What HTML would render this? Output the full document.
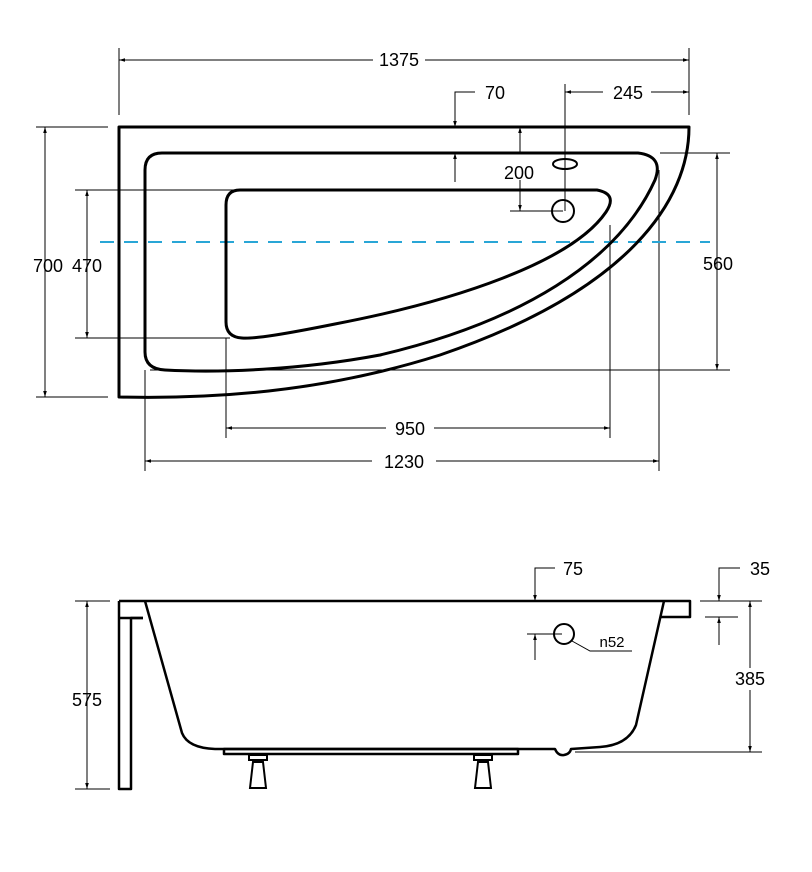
<!DOCTYPE html>
<html><head><style>html,body{margin:0;padding:0;background:#fff}svg{display:block}</style></head>
<body>
<svg width="812" height="872" viewBox="0 0 812 872" xmlns="http://www.w3.org/2000/svg" font-family="Liberation Sans, Arial, sans-serif">
<defs>
<marker id="a" viewBox="0 0 10 10" refX="10" refY="5" markerWidth="6" markerHeight="6" orient="auto-start-reverse"><path d="M0,2 L10,5 L0,8 Z" fill="#000"/></marker>
</defs>
<g stroke="#000" stroke-width="1" fill="none">
<line x1="119" y1="48" x2="119" y2="115"/><line x1="689" y1="48" x2="689" y2="115"/>
<line x1="119" y1="60" x2="689" y2="60" marker-start="url(#a)" marker-end="url(#a)"/>
<line x1="565" y1="84" x2="565" y2="211"/>
<line x1="565" y1="92" x2="689" y2="92" marker-start="url(#a)" marker-end="url(#a)"/>
<polyline points="475,92 455,92 455,127" marker-end="url(#a)"/>
<line x1="455" y1="182" x2="455" y2="153" marker-end="url(#a)"/>
<line x1="520" y1="153" x2="520" y2="127" marker-end="url(#a)"/>
<line x1="520" y1="180" x2="520" y2="211" marker-end="url(#a)"/>
<line x1="510" y1="211" x2="563" y2="211"/>
<line x1="660" y1="153" x2="730" y2="153"/><line x1="150" y1="370" x2="730" y2="370"/>
<line x1="717" y1="153" x2="717" y2="370" marker-start="url(#a)" marker-end="url(#a)"/>
<line x1="36" y1="127" x2="108" y2="127"/><line x1="36" y1="397" x2="108" y2="397"/>
<line x1="45" y1="127" x2="45" y2="397" marker-start="url(#a)" marker-end="url(#a)"/>
<line x1="75" y1="190" x2="235" y2="190"/><line x1="75" y1="338" x2="230" y2="338"/>
<line x1="87" y1="190" x2="87" y2="338" marker-start="url(#a)" marker-end="url(#a)"/>
<line x1="226" y1="338" x2="226" y2="438"/><line x1="610" y1="225" x2="610" y2="438"/>
<line x1="226" y1="428" x2="610" y2="428" marker-start="url(#a)" marker-end="url(#a)"/>
<line x1="145" y1="370" x2="145" y2="471"/><line x1="659" y1="170" x2="659" y2="471"/>
<line x1="145" y1="461" x2="659" y2="461" marker-start="url(#a)" marker-end="url(#a)"/>
</g>
<line x1="100" y1="242" x2="710" y2="242" stroke="#29a6d6" stroke-width="2" stroke-dasharray="14,10"/>
<g stroke="#000" stroke-width="3" fill="none" stroke-linejoin="round">
<path d="M119,127 L689,127 C689,200 630,290 440,355 C320,393 210,399 119,397 Z"/>
<path d="M162,153 L638,153 Q664,156 655,180 C618,262 520,322 380,355 C300,370 220,373 165,370 Q145,369 145,352 L145,170 Q145,153 162,153 Z"/>
<path d="M240,190 L597,190 Q618,194 606,212 C572,262 455,301 335,324 C285,334 255,339 242,338 Q226,337 226,322 L226,205 Q226,190 240,190 Z"/>
</g>
<g stroke="#000" stroke-width="2" fill="none">
<ellipse cx="565" cy="164" rx="12" ry="5"/>
<circle cx="563" cy="211" r="11"/>
</g>
<g stroke="#000" stroke-width="1" fill="none">
<polyline points="555,568 535,568 535,601" marker-end="url(#a)"/>
<line x1="535" y1="660" x2="535" y2="634" marker-end="url(#a)"/>
<line x1="527" y1="634" x2="562" y2="634"/>
<polyline points="740,568 719,568 719,601" marker-end="url(#a)"/>
<line x1="719" y1="645" x2="719" y2="617" marker-end="url(#a)"/>
<line x1="700" y1="601" x2="762" y2="601"/><line x1="705" y1="617" x2="738" y2="617"/>
<line x1="575" y1="752" x2="762" y2="752"/>
<line x1="750" y1="601" x2="750" y2="752" marker-start="url(#a)" marker-end="url(#a)"/>
<line x1="75" y1="601" x2="110" y2="601"/><line x1="75" y1="789" x2="110" y2="789"/>
<line x1="87" y1="601" x2="87" y2="789" marker-start="url(#a)" marker-end="url(#a)"/>
<polyline points="572,641 590,651 632,651"/>
</g>
<g stroke="#000" stroke-width="2.5" fill="none" stroke-linejoin="round">
<path d="M119,601 L690,601 L690,617 L660,617"/>
<path d="M119,601 L119,789 L131,789 L131,618 L143,618"/>
<line x1="119" y1="618" x2="143" y2="618"/>
<path d="M145,601 L182,733 Q188,748 215,749 L555,749 Q558,756 564,755 Q570,754 571,749 L600,747 Q628,745 636,725 L664,601"/>
<rect x="224" y="749" width="294" height="5"/>
<circle cx="564" cy="634" r="10" stroke-width="2"/>
</g>
<g fill="#fff" stroke="#000" stroke-width="2">
<rect x="249" y="755" width="18" height="5"/><path d="M253,762 L263,762 L266,788 L250,788 Z"/>
<rect x="474" y="755" width="18" height="5"/><path d="M478,762 L488,762 L491,788 L475,788 Z"/>
</g>
<g font-size="18" text-anchor="middle" fill="#000">
<rect x="373" y="50" width="52" height="20" fill="#fff"/><text x="399" y="66">1375</text>
<text x="495" y="99">70</text>
<rect x="603" y="82" width="48" height="20" fill="#fff"/><text x="628" y="99">245</text>
<text x="519" y="179">200</text>
<text x="718" y="270">560</text>
<text x="48" y="272">700</text>
<text x="87" y="272">470</text>
<rect x="386" y="418" width="48" height="20" fill="#fff"/><text x="410" y="435">950</text>
<rect x="372" y="451" width="64" height="20" fill="#fff"/><text x="404" y="468">1230</text>
<text x="573" y="575">75</text>
<text x="760" y="575">35</text>
<rect x="728" y="668" width="44" height="22" fill="#fff"/><text x="750" y="685">385</text>
<text x="87" y="706">575</text>
<text x="612" y="647" font-size="15">n52</text>
</g>
</svg>
</body></html>
